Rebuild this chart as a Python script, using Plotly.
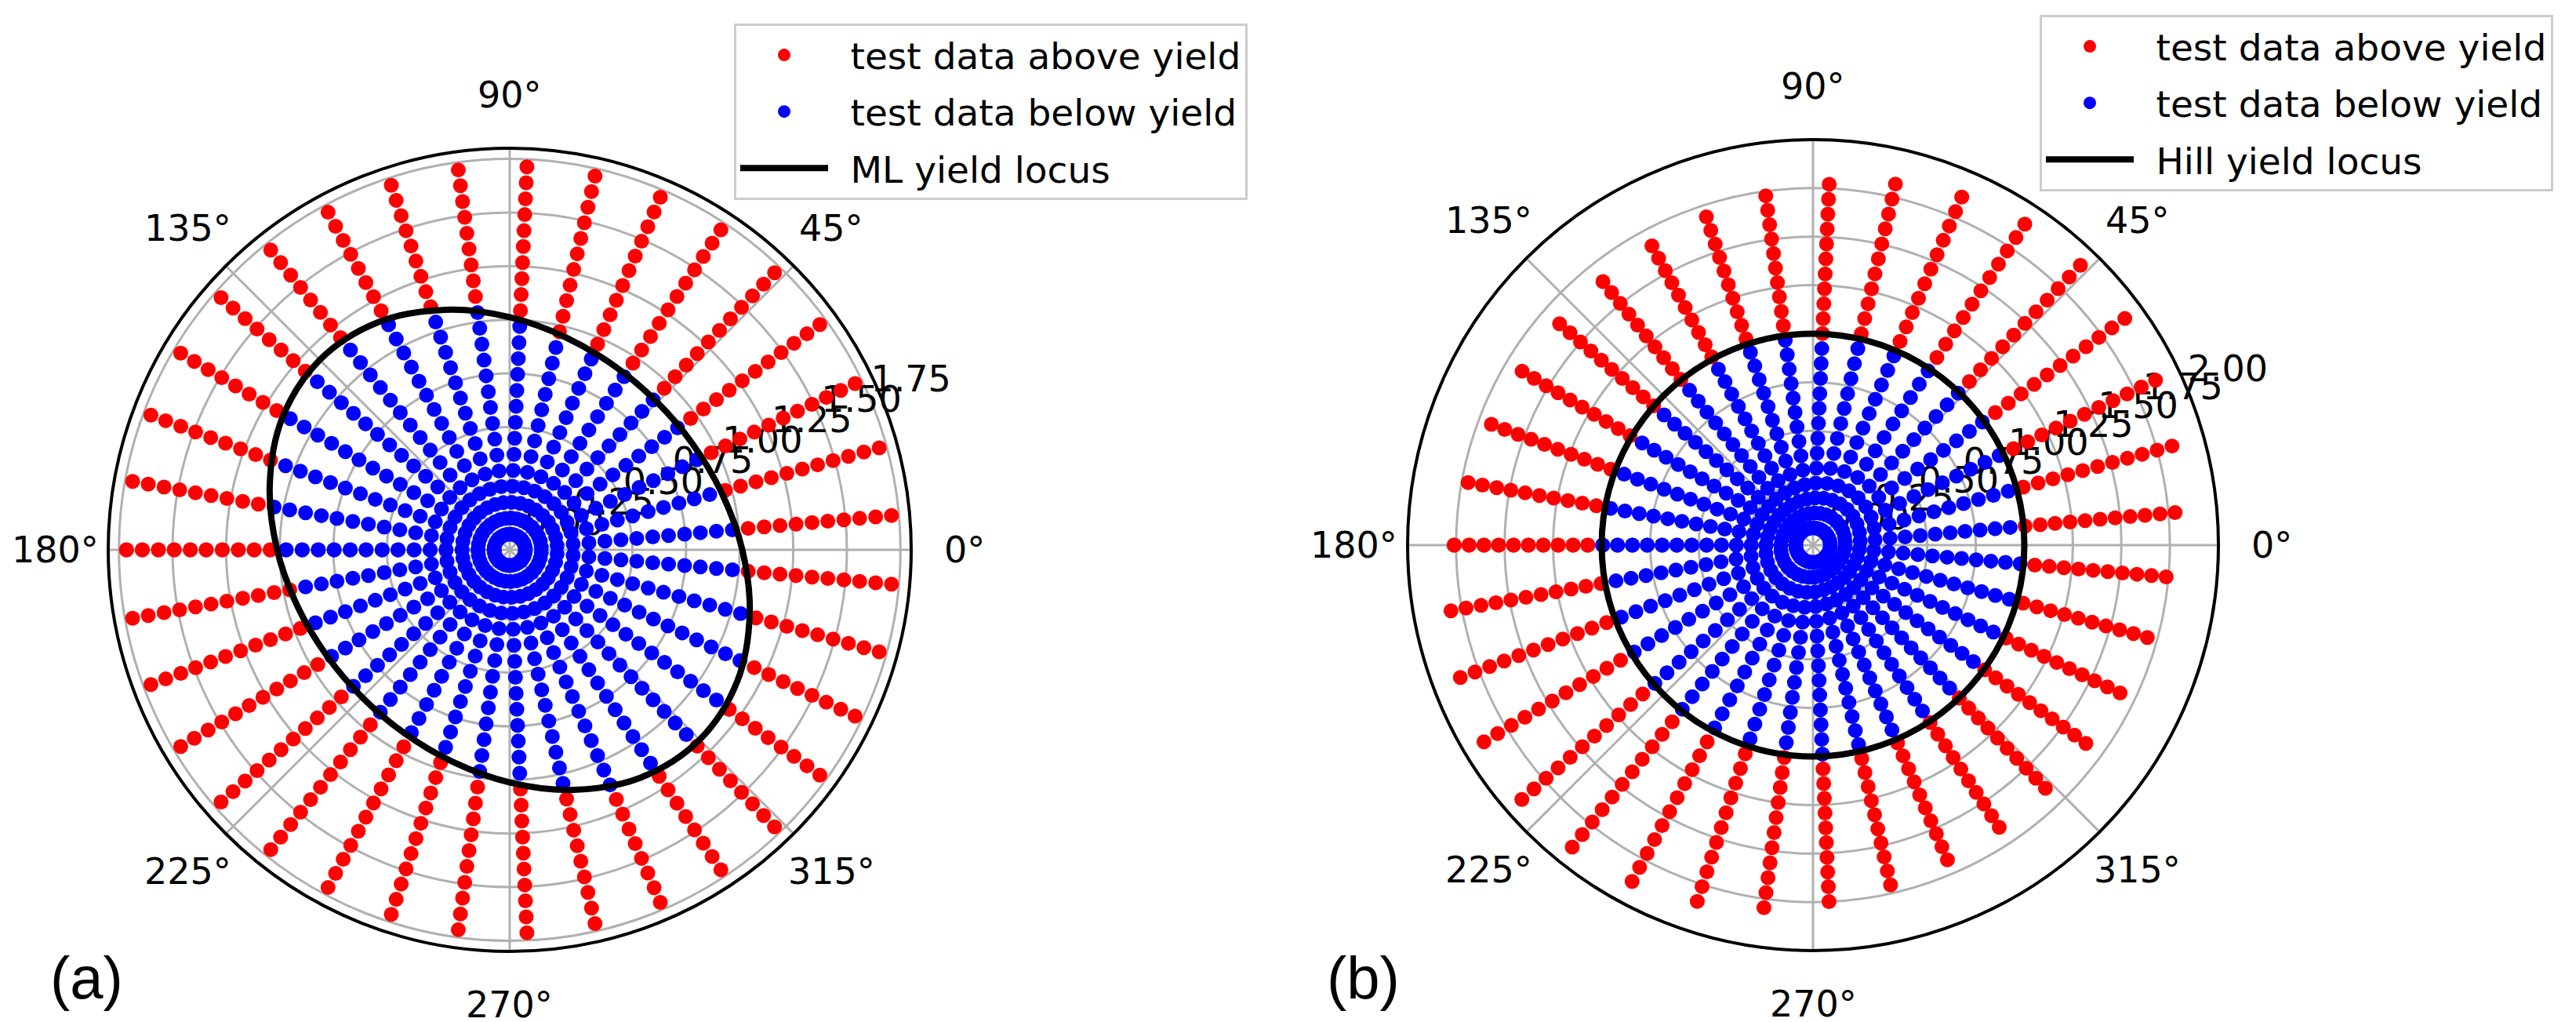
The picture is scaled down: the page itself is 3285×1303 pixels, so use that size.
import math
import plotly.graph_objects as go

# ---------------- data ----------------
# 36 loading directions (deg); first and last coincide (180 deg)
ray_theta = [-180.0, -169.71, -159.43, -149.14, -138.86, -128.57, -118.29, -108.0,
             -97.71, -87.43, -77.14, -66.86, -56.57, -46.29, -36.0, -25.71,
             -15.43, -5.14, 5.14, 15.43, 25.71, 36.0, 46.29, 56.57,
             66.86, 77.14, 87.43, 97.71, 108.0, 118.29, 128.57, 138.86,
             149.14, 159.43, 169.71, 180.0]

# (a) radial levels of test points along every ray
r_levels_a = [0.000, 0.075, 0.149, 0.224, 0.298, 0.373, 0.448, 0.522, 0.597, 0.671,
              0.746, 0.820, 0.895, 0.970, 1.044, 1.119, 1.193, 1.268, 1.343, 1.417,
              1.492, 1.566, 1.641, 1.715]
# (a) number of points below yield on each ray
n_below_a = [14, 13, 13, 13, 13, 13, 13, 13, 14, 14, 15, 16, 16, 16, 16, 16, 15, 14,
             14, 13, 13, 13, 13, 13, 13, 13, 14, 15, 15, 16, 16, 16, 16, 15, 15, 14]

# (b) levels along the longest ray and ray length per direction
r_levels_b = [0.000, 0.083, 0.166, 0.248, 0.331, 0.414, 0.497, 0.580, 0.663, 0.745,
              0.828, 0.911, 0.994, 1.077, 1.160, 1.242, 1.325, 1.408, 1.491, 1.574,
              1.657, 1.739, 1.822, 1.905]
ray_len_b = [1.760, 1.807, 1.852, 1.886, 1.903, 1.901, 1.878, 1.841, 1.796, 1.749,
             1.707, 1.674, 1.653, 1.644, 1.649, 1.667, 1.698, 1.738, 1.784, 1.830,
             1.870, 1.897, 1.905, 1.892, 1.861, 1.819, 1.772, 1.727, 1.689, 1.662,
             1.647, 1.645, 1.657, 1.681, 1.717, 1.760]
n_below_b = [14, 13, 13, 13, 13, 13, 13, 13, 13, 14, 14, 14, 14, 14, 14, 14, 14, 14,
             13, 13, 13, 13, 13, 13, 13, 13, 13, 14, 14, 14, 14, 14, 14, 14, 14, 14]

# yield loci
locus_theta = [0, 15, 30, 45, 60, 75, 90, 105, 120, 135, 150, 165, 180,
               195, 210, 225, 240, 255, 270, 285, 300, 315, 330, 345, 360]
ml_locus_r = [1.012, 0.951, 0.913, 0.900, 0.913, 0.951, 1.012, 1.086, 1.153, 1.180,
              1.153, 1.086, 1.012, 0.951, 0.913, 0.900, 0.913, 0.951, 1.012, 1.086,
              1.153, 1.180, 1.153, 1.086, 1.012]
hill_locus_r = [1.0, 1.0, 1.0, 1.0, 1.0, 1.0, 1.0, 1.0, 1.0, 1.0, 1.0, 1.0, 1.0,
                1.0, 1.0, 1.0, 1.0, 1.0, 1.0, 1.0, 1.0, 1.0, 1.0, 1.0, 1.0]

# axis ticks
angle_ticks = [0, 45, 90, 135, 180, 225, 270, 315]
r_ticks_a = [0.00, 0.25, 0.50, 0.75, 1.00, 1.25, 1.50, 1.75]
r_ticks_b = [0.00, 0.25, 0.50, 0.75, 1.00, 1.25, 1.50, 1.75, 2.00]
r_range_a = [-0.073, 1.80]
r_range_b = [-0.089, 2.00]

# ---------------- build point tables ----------------
def split_points(levels_per_ray, nbelow):
    above_r, above_t, below_r, below_t = [], [], [], []
    for th, levels, nb in zip(ray_theta, levels_per_ray, nbelow):
        for k, r in enumerate(levels):
            if k < nb:
                below_r.append(r); below_t.append(th)
            else:
                above_r.append(r); above_t.append(th)
    return above_r, above_t, below_r, below_t

levels_a = [r_levels_a for _ in ray_theta]
levels_b = [[lv * L / r_levels_b[-1] for lv in r_levels_b] for L in ray_len_b]

a_up_r, a_up_t, a_lo_r, a_lo_t = split_points(levels_a, n_below_a)
b_up_r, b_up_t, b_lo_r, b_lo_t = split_points(levels_b, n_below_b)

RED = "#ff0000"
BLUE = "#0000ff"
MS = 19
FONT = "DejaVu Sans"
W, H = 3285, 1303

fig = go.Figure()

def add_panel(sub, legend, up_r, up_t, lo_r, lo_t, loc_r, loc_name, rticks):
    # radial tick labels (drawn first, so the markers lie on top of them)
    fig.add_trace(go.Scatterpolar(r=rticks, theta=[22.5] * len(rticks), mode="text",
                                  subplot=sub, text=["%.2f" % v for v in rticks],
                                  textposition="top right", showlegend=False,
                                  hoverinfo="skip", cliponaxis=False,
                                  textfont=dict(family=FONT, size=46, color="black")))
    fig.add_trace(go.Scatterpolar(r=up_r, theta=up_t, mode="markers", subplot=sub,
                                  marker=dict(color=RED, size=MS, line=dict(width=0)),
                                  name="\u2002test data above yield", legend=legend,
                                  legendgroup=sub + "1"))
    fig.add_trace(go.Scatterpolar(r=lo_r, theta=lo_t, mode="markers", subplot=sub,
                                  marker=dict(color=BLUE, size=MS, line=dict(width=0)),
                                  name="\u2002test data below yield", legend=legend,
                                  legendgroup=sub + "2"))
    fig.add_trace(go.Scatterpolar(r=loc_r, theta=locus_theta, mode="lines", subplot=sub,
                                  line=dict(color="black", width=8, shape="spline"),
                                  name="\u2002" + loc_name, legend=legend,
                                  legendgroup=sub + "3"))

add_panel("polar", "legend", a_up_r, a_up_t, a_lo_r, a_lo_t, ml_locus_r,
          "ML yield locus", r_ticks_a)
add_panel("polar2", "legend2", b_up_r, b_up_t, b_lo_r, b_lo_t, hill_locus_r,
          "Hill yield locus", r_ticks_b)

def dom(cx, cy, rad):
    return dict(x=[(cx - rad) / W, (cx + rad) / W],
                y=[(H - cy - rad) / H, (H - cy + rad) / H])

def polar_layout(cx, cy, rad, rrange):
    return dict(
        domain=dom(cx, cy, rad),
        bgcolor="white",
        radialaxis=dict(range=rrange, tick0=0, dtick=0.25, showticklabels=False,
                        showline=False, ticks="", gridcolor="#b0b0b0", gridwidth=3,
                        layer="below traces"),
        angularaxis=dict(dtick=45, rotation=0, direction="counterclockwise",
                         showline=True, linecolor="black", linewidth=4,
                         gridcolor="#b0b0b0", gridwidth=3, ticks="",
                         showticklabels=False, layer="below traces"),
    )

# angular tick labels, centred a fixed distance outside each polar frame
def angle_labels(cx, cy, rad):
    anns = []
    d = rad + 68
    for a in angle_ticks:
        x = cx + d * math.cos(math.radians(a))
        y = cy - d * math.sin(math.radians(a))
        anns.append(dict(text="%d°" % a, x=x / W, y=1 - y / H, xref="paper", yref="paper",
                         xanchor="center", yanchor="middle", showarrow=False,
                         font=dict(family=FONT, size=46, color="black")))
    return anns

leg_common = dict(bgcolor="white", bordercolor="#cccccc", borderwidth=3,
                  font=dict(family=FONT, size=47, color="black"),
                  xanchor="left", yanchor="top", itemwidth=112,
                  traceorder="grouped", tracegroupgap=8)

annotations = angle_labels(642, 693, 512) + angle_labels(2304, 687, 517) + [
    dict(text="(a)", x=102 / W, y=1 - 1238 / H, xref="paper", yref="paper",
         xanchor="center", yanchor="middle", showarrow=False,
         font=dict(family="Liberation Sans", size=76, color="black")),
    dict(text="(b)", x=1730 / W, y=1 - 1238 / H, xref="paper", yref="paper",
         xanchor="center", yanchor="middle", showarrow=False,
         font=dict(family="Liberation Sans", size=76, color="black")),
]

fig.update_layout(
    width=W, height=H,
    margin=dict(l=0, r=0, t=0, b=0),
    paper_bgcolor="white",
    polar=polar_layout(642, 693, 512, r_range_a),
    polar2=polar_layout(2304, 687, 517, r_range_b),
    legend=dict(x=928 / W, y=1 - 22 / H, **leg_common),
    legend2=dict(x=2593 / W, y=1 - 11 / H, **leg_common),
    showlegend=True,
    annotations=annotations,
)

fig.write_html("out.html")
